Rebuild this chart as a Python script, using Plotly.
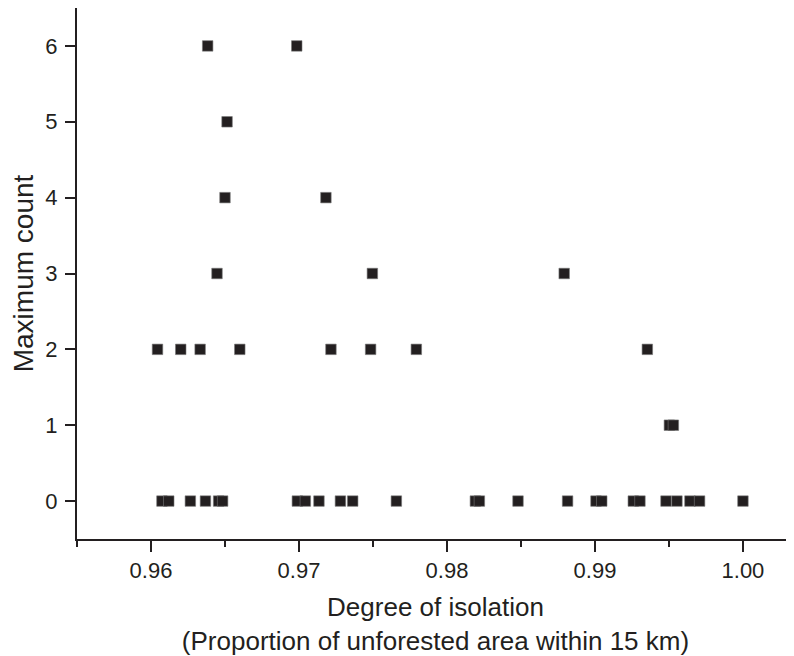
import plotly.graph_objects as go

# Degree of isolation values, grouped by maximum count
iso_6 = [0.96383, 0.96985]
iso_5 = [0.96514]
iso_4 = [0.96500, 0.97182]
iso_3 = [0.96446, 0.97496, 0.98792]
iso_2 = [0.96044, 0.96201, 0.96332, 0.96600, 0.97216, 0.97484, 0.97793, 0.99354]
iso_1 = [0.99503, 0.99530]
iso_0 = [0.96074, 0.96120, 0.96266, 0.96368, 0.96457, 0.96484, 0.96989, 0.97043,
         0.97135, 0.97280, 0.97363, 0.97658, 0.98192, 0.98219, 0.98480, 0.98815,
         0.99007, 0.99046, 0.99259, 0.99304, 0.99480, 0.99554, 0.99642, 0.99707,
         1.00000]

x_ticks = [0.96, 0.97, 0.98, 0.99, 1.00]
x_tick_labels = ["0.96", "0.97", "0.98", "0.99", "1.00"]
y_ticks = [0, 1, 2, 3, 4, 5, 6]

groups = [(6, iso_6), (5, iso_5), (4, iso_4), (3, iso_3), (2, iso_2), (1, iso_1), (0, iso_0)]
xs, ys = [], []
for count, vals in groups:
    xs.extend(vals)
    ys.extend([count] * len(vals))

ink = "#231f20"
font_family = "Liberation Sans, Arial, sans-serif"

fig = go.Figure(go.Scatter(
    x=xs, y=ys, mode="markers",
    marker=dict(symbol="square", size=10.5, color=ink, line=dict(width=0.6, color="#777777")),
    showlegend=False,
))

# page body has an 8px default margin, so the figure is sized to fit the window
fig.update_layout(
    width=786, height=648,
    margin=dict(l=69, r=0, t=0, b=117),
    paper_bgcolor="white", plot_bgcolor="white",
    font=dict(family=font_family, color=ink),
)

fig.update_xaxes(
    range=[0.955, 1.00345],
    automargin=False,
    tickvals=x_ticks, ticktext=x_tick_labels,
    ticks="outside", ticklen=11, tickwidth=2, tickcolor=ink,
    minor=dict(dtick=0.005, tick0=0.955, ticks="outside", ticklen=6, tickwidth=2, tickcolor=ink, showgrid=False),
    showline=True, linewidth=2, linecolor=ink,
    showgrid=False, zeroline=False,
    tickfont=dict(size=22, color=ink),
    title=dict(text="Degree of isolation<br>(Proportion of unforested area within 15 km)",
               font=dict(size=26, color=ink), standoff=19),
)

fig.update_yaxes(
    range=[-0.5, 6.5],
    automargin=False,
    tickvals=y_ticks,
    ticks="outside", ticklen=10, tickwidth=2, tickcolor=ink,
    showline=True, linewidth=2, linecolor=ink,
    showgrid=False, zeroline=False,
    tickfont=dict(size=22, color=ink),
    ticklabelstandoff=3,
    title=dict(text="Maximum count", font=dict(size=28, color=ink), standoff=13),
)

fig.write_html("out.html")
